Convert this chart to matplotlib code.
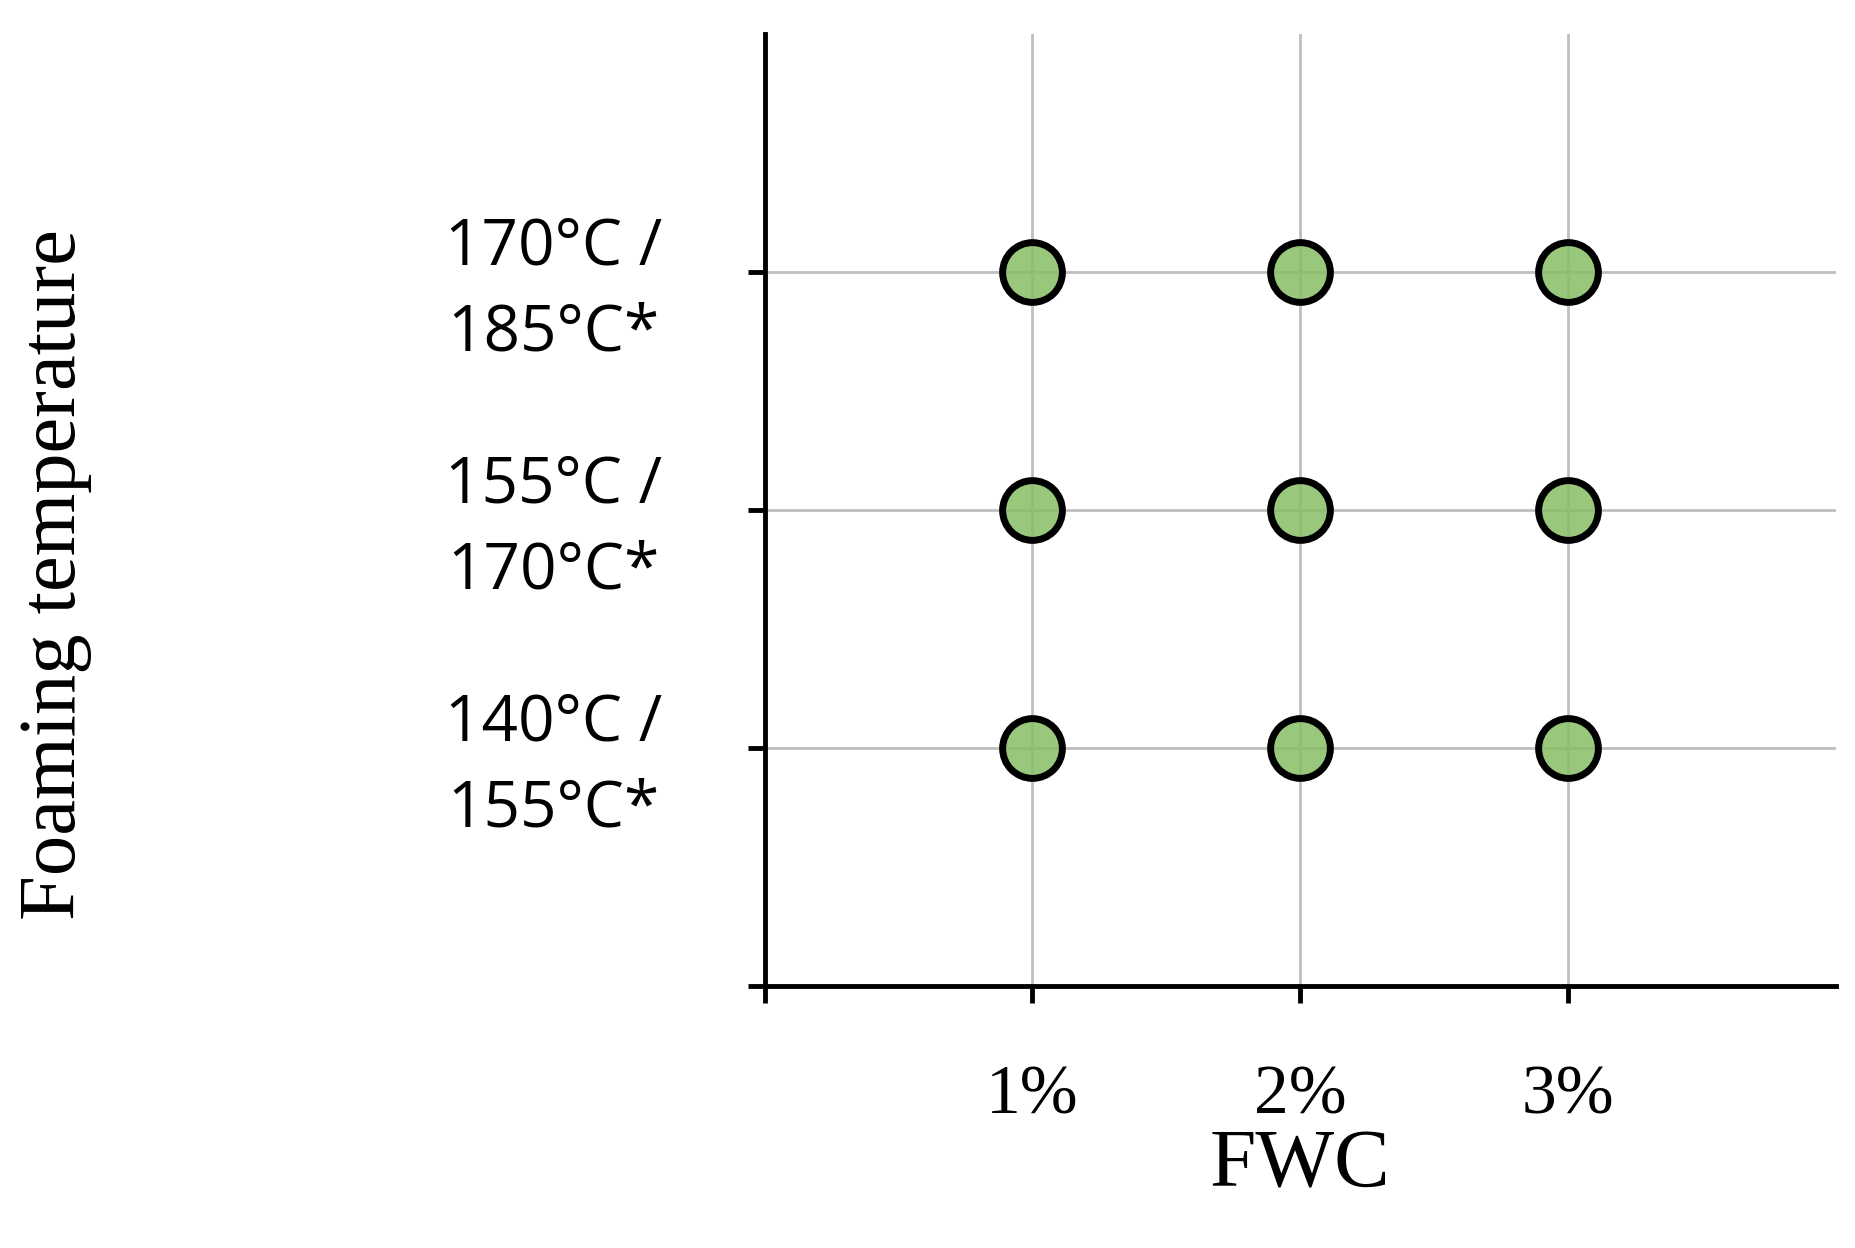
import matplotlib
matplotlib.use("Agg")
import matplotlib.pyplot as plt

fwc_labels = ["", "1%", "2%", "3%"]
temp_labels = ["", "140°C /\n155°C*", "155°C /\n170°C*", "170°C /\n185°C*"]
pts_x = [1, 2, 3, 1, 2, 3, 1, 2, 3]
pts_y = [1, 1, 1, 2, 2, 2, 3, 3, 3]

fig = plt.figure(figsize=(18.56, 12.48), dpi=100)
ax = fig.add_axes([0.412, 0.21, 0.577, 0.763])
ax.set_xlim(0, 4)
ax.set_ylim(0, 4)
for v in [1, 2, 3]:
    ax.axvline(v, color="#bfbfbf", lw=2, zorder=1)
    ax.axhline(v, color="#bfbfbf", lw=2, zorder=1)
ax.scatter(pts_x, pts_y, s=1850, facecolor=(0.53, 0.75, 0.40, 0.85),
           edgecolor="black", linewidths=5, zorder=3)
ax.set_xticks([0, 1, 2, 3])
ax.set_xticklabels(fwc_labels, fontsize=50, family="Liberation Serif")
ax.set_yticks([0, 1, 2, 3])
ax.set_yticklabels(temp_labels, fontsize=46, family="Open Sans", linespacing=1.45)
ax.tick_params(axis="both", length=12, width=3.5)
ax.tick_params(axis="x", pad=45)
ax.tick_params(axis="y", pad=140)
for lab in ax.get_yticklabels():
    lab.set_horizontalalignment("center")
for s in ["top", "right"]:
    ax.spines[s].set_visible(False)
for s in ["left", "bottom"]:
    ax.spines[s].set_linewidth(3.5)
ax.set_xlabel("FWC", fontsize=60, family="Liberation Serif", labelpad=0)
fig.text(0.03, 0.54, "Foaming temperature", rotation=90, fontsize=58,
         family="Liberation Serif", ha="center", va="center")
fig.savefig("out.png", dpi=100)
